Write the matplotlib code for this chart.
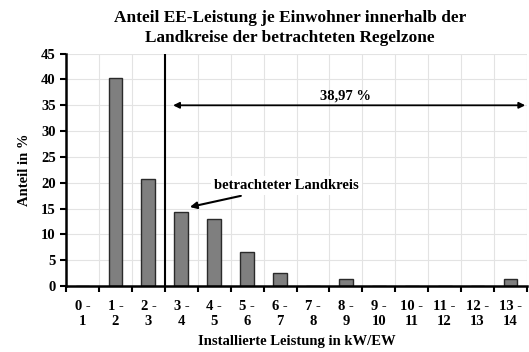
import matplotlib.pyplot as plt
import numpy as np

plt.rcParams['font.family'] = ['Liberation Serif', 'DejaVu Serif']
plt.rcParams['font.weight'] = 'bold'

# Data
bins_low = list(range(0, 14))
bins_high = list(range(1, 15))
shares = [0, 40.2, 20.8, 14.3, 13.0, 6.5, 2.6, 0, 1.3, 0, 0, 0, 0, 1.3]
share_above = "38,97 %"
marker_boundary = 3
highlight_bin = 3

labels = [f"{lo} -\n{hi}" for lo, hi in zip(bins_low, bins_high)]
centers = np.arange(len(shares)) + 0.5

fig = plt.figure(figsize=(5.29, 3.52), dpi=100)
ax = fig.add_axes([0.125, 0.1875, 0.871, 0.66])

ax.bar(centers, shares, width=0.42, color="#7f7f7f", edgecolor="#2a2a2a",
       linewidth=1.0, zorder=3)

ax.set_xlim(0, 14)
ax.set_ylim(0, 45)
ax.set_yticks(np.arange(0, 46, 5))
ax.set_xticks(np.arange(0, 15, 1))
ax.set_xticklabels([])
ax.set_xticks(centers, minor=True)
ax.set_xticklabels(labels, minor=True, fontsize=10.5, fontweight='bold')
ax.tick_params(axis='x', which='minor', length=0, pad=10)
ax.tick_params(axis='x', which='major', length=4, width=1.5, direction='out')
ax.tick_params(axis='y', length=4, width=1.5, labelsize=10.5)
for lbl in ax.get_yticklabels():
    lbl.set_fontweight('bold')

ax.grid(True, which='major', color="#e3e3e3", linewidth=0.8, zorder=0)
for s in ['top', 'right']:
    ax.spines[s].set_visible(False)
for s in ['left', 'bottom']:
    ax.spines[s].set_linewidth(1.8)
    ax.spines[s].set_zorder(4)

# boundary line and range arrow
ax.axvline(marker_boundary, color="black", linewidth=1.5, zorder=4)
ax.annotate("", xy=(13.95, 35), xytext=(marker_boundary + 0.25, 35),
            arrowprops=dict(arrowstyle="<|-|>", color="black", lw=1.3,
                            mutation_scale=9, shrinkA=0, shrinkB=0), zorder=5)
ax.text(8.5, 35.6, share_above, ha="center", va="bottom", fontsize=10.5,
        fontweight="bold")

ax.annotate("betrachteter Landkreis", xy=(highlight_bin + 0.76, 15.3),
            xytext=(highlight_bin + 1.5, 19.4), fontsize=10.5,
            fontweight="bold", va="center", ha="left",
            bbox=dict(boxstyle="square,pad=0.2", fc="white", ec="none"),
            arrowprops=dict(arrowstyle="-|>", color="black", lw=1.5,
                            mutation_scale=10, shrinkA=2, shrinkB=0),
            zorder=6)

fig.text(290 / 529, 1 - 28 / 352,
         "Anteil EE-Leistung je Einwohner innerhalb der\nLandkreise der betrachteten Regelzone",
         fontsize=12.4, fontweight="bold", ha="center", va="center",
         linespacing=1.25)
ax.set_ylabel("Anteil in %", fontsize=10.5, fontweight="bold", labelpad=7)
ax.set_xlabel("Installierte Leistung in kW/EW", fontsize=10.5,
              fontweight="bold", labelpad=5)

fig.savefig("out.png", dpi=100)
